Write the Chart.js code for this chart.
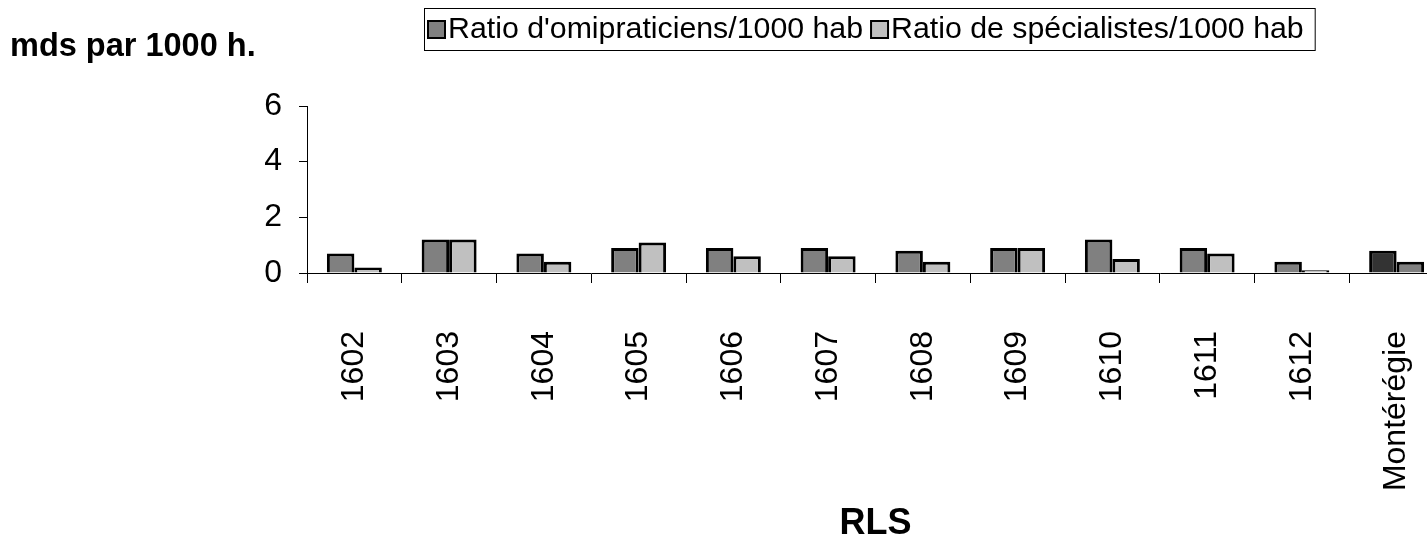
<!DOCTYPE html>
<html>
<head>
<meta charset="utf-8">
<script src="https://cdn.jsdelivr.net/npm/chart.js@4/dist/chart.umd.min.js"></script>
<style>
  html, body { margin: 0; padding: 0; background: #fff; overflow: hidden; }
  #wrap { width: 1446px; height: 546px; position: relative; }
</style>
</head>
<body>
<div id="wrap"><canvas id="rlsChart"></canvas></div>
<script>
const categories = ['1602', '1603', '1604', '1605', '1606', '1607', '1608', '1609', '1610', '1611', '1612', 'Montérégie'];
const omnipraticiens = [0.7, 1.2, 0.7, 0.9, 0.9, 0.9, 0.8, 0.9, 1.2, 0.9, 0.4, 0.8];
const specialistes = [0.2, 1.2, 0.4, 1.1, 0.6, 0.6, 0.4, 0.9, 0.5, 0.7, 0.1, 0.4];
const seriesNames = ["Ratio d'omipraticiens/1000 hab", 'Ratio de spécialistes/1000 hab'];
const yTicks = [0, 2, 4, 6];

const FONT = "'Liberation Sans', Arial, sans-serif";

// the regional total gets its own darker shades
const omniColors = categories.map(c => c === 'Montérégie' ? '#333333' : '#808080');
const specColors = categories.map(c => c === 'Montérégie' ? '#808080' : '#c0c0c0');

// unit label at top left + boxed legend at top
const decorations = {
    id: 'decorations',
    afterDraw(chart) {
        const ctx = chart.ctx;
        ctx.save();
        ctx.fillStyle = '#000';
        ctx.font = 'bold 32.5px ' + FONT;
        ctx.textBaseline = 'alphabetic';
        ctx.textAlign = 'left';
        ctx.fillText('mds par 1000 h.', 10, 56);

        ctx.font = '30.3px ' + FONT;
        ctx.textBaseline = 'middle';
        const swatches = ['#808080', '#c0c0c0'];
        let x = 428;
        const y = 29;
        seriesNames.forEach((name, i) => {
            ctx.fillStyle = swatches[i];
            ctx.fillRect(x, y - 8, 17, 17);
            ctx.lineWidth = 2;
            ctx.strokeStyle = '#000';
            ctx.strokeRect(x, y - 8, 17, 17);
            ctx.fillStyle = '#000';
            ctx.fillText(name, x + 20, y + 1);
            x += 20 + ctx.measureText(name).width + 8;
        });
        ctx.lineWidth = 1;
        ctx.strokeStyle = '#000';
        ctx.strokeRect(424.5, 8.5, x - 424 + 3, 42);
        ctx.restore();
    }
};

new Chart(document.getElementById('rlsChart'), {
    type: 'bar',
    data: {
        labels: categories,
        datasets: [{
            label: seriesNames[0],
            data: omnipraticiens,
            backgroundColor: omniColors,
            borderColor: '#000',
            borderWidth: 3,
            categoryPercentage: 0.58,
            barPercentage: 1.0
        }, {
            label: seriesNames[1],
            data: specialistes,
            backgroundColor: specColors,
            borderColor: '#000',
            borderWidth: 3,
            categoryPercentage: 0.58,
            barPercentage: 1.0
        }]
    },
    options: {
        responsive: true,
        maintainAspectRatio: false,
        animation: false,
        layout: { padding: { left: 0, top: 106, right: 2, bottom: 0 } },
        plugins: {
            legend: { display: false },
            tooltip: { enabled: false }
        },
        scales: {
            x: {
                grid: { drawOnChartArea: false, offset: true, tickLength: 10, color: '#000', lineWidth: 1 },
                border: { color: '#000', width: 1 },
                ticks: {
                    minRotation: 90, maxRotation: 90, padding: 48,
                    color: '#000', font: { family: FONT, size: 32 }
                },
                title: {
                    display: true, text: 'RLS', color: '#000',
                    font: { family: FONT, size: 36, weight: 'bold' },
                    padding: { top: 0, bottom: 0 }
                },
                afterFit(scale) {
                    scale.height = 273;
                    scale.paddingLeft = 0;
                    scale.paddingRight = 0;
                }
            },
            y: {
                min: 0, max: 6,
                afterBuildTicks(scale) { scale.ticks = yTicks.map(v => ({ value: v })); },
                grid: { drawOnChartArea: false, tickLength: 8, color: '#000', lineWidth: 1 },
                border: { color: '#000', width: 1 },
                ticks: { padding: 17, color: '#000', font: { family: FONT, size: 32 } },
                afterFit(scale) {
                    scale.width = 307;
                    scale.paddingTop = 0;
                    scale.paddingBottom = 0;
                }
            }
        }
    },
    plugins: [decorations]
});
</script>
</body>
</html>
